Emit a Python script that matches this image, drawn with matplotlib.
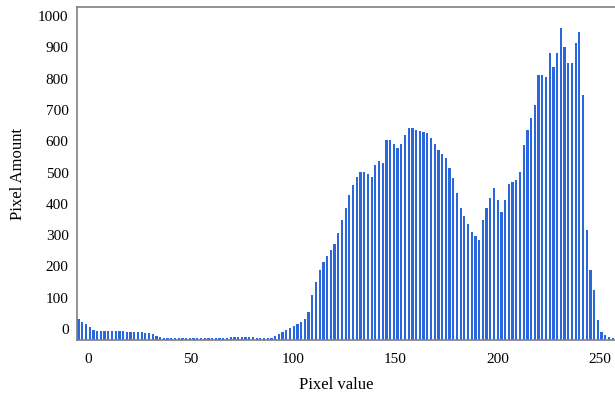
import numpy as np
import matplotlib
matplotlib.use("Agg")
import matplotlib.pyplot as plt
import matplotlib.transforms as mtransforms

# bar heights (pixel counts), left to right
counts = [
    67, 58, 50, 42, 32, 29, 28, 28, 28, 28,
    28, 28, 28, 27, 27, 27, 26, 26, 24, 21,
    18, 14, 11, 8, 7, 6, 6, 6, 7, 8,
    8, 8, 8, 8, 6, 6, 6, 6, 5, 5,
    5, 9, 9, 9, 9, 9, 9, 9, 5, 5,
    5, 5, 8, 13, 19, 26, 32, 38, 45, 51,
    58, 67, 90, 144, 185, 224, 249, 268, 288, 307,
    342, 383, 422, 463, 495, 521, 537, 537, 530, 521,
    559, 572, 566, 639, 639, 626, 613, 626, 655, 677,
    677, 671, 668, 665, 661, 645, 626, 607, 594, 581,
    550, 518, 470, 422, 396, 371, 345, 332, 320, 383,
    422, 454, 486, 447, 409, 447, 498, 505, 511, 537,
    623, 671, 709, 751, 847, 847, 840, 917, 872, 917,
    997, 936, 885, 885, 949, 984, 783, 351, 224, 160,
    64, 26, 16, 10, 5,
]
bin_start, bin_end = -4.6, 256.2
xticks = [0, 50, 100, 150, 200, 250]
yticks = [0, 100, 200, 300, 400, 500, 600, 700, 800, 900, 1000]

bar_color = "#2b66dc"
spine_color = "#808080"

plt.rcParams["font.family"] = ["Liberation Serif", "DejaVu Serif"]

fig = plt.figure(figsize=(6.15, 3.94), dpi=100)
ax = fig.add_axes([0.1252, 0.137, 0.8748, 0.845])

centers = np.linspace(bin_start, bin_end, len(counts))
ax.bar(centers, counts, width=1.1, color=bar_color, linewidth=0)

ax.set_xlim(-5.37, 257.3)
ax.set_ylim(0, 1064)

ax.set_xticks(xticks)
ax.set_yticks(yticks)
ax.tick_params(length=0, labelsize=11)
ax.tick_params(axis="x", pad=9)
ax.tick_params(axis="y", pad=6)

# y tick labels in the original sit a little above their grid positions
offset = mtransforms.ScaledTranslation(0, 0.11, fig.dpi_scale_trans)
for lab in ax.get_yticklabels():
    lab.set_transform(lab.get_transform() + offset)

for side in ["left", "bottom", "top"]:
    ax.spines[side].set_color(spine_color)
    ax.spines[side].set_linewidth(1.2)
ax.spines["right"].set_visible(False)

ax.set_xlabel("Pixel value", fontsize=12)
ax.set_ylabel("Pixel Amount", fontsize=12)
ax.xaxis.set_label_coords(0.481, -0.112)
ax.yaxis.set_label_coords(-0.094, 0.5)

plt.savefig("out.png", dpi=100)
